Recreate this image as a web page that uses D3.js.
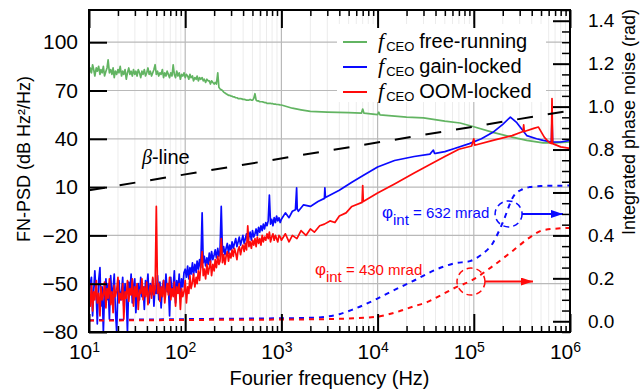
<!DOCTYPE html>
<html>
<head>
<meta charset="utf-8">
<script src="https://cdn.jsdelivr.net/npm/d3@7"></script>
<style>
  body { margin: 0; background: #fff; }
  text { font-family: 'Liberation Sans', Arial, sans-serif; }
</style>
</head>
<body>
<svg id="chart"></svg>
<script>
// Full size of the svg element.
const WIDTH = 642;
const HEIGHT = 392;

// Edges of the plot frame.
const LEFT = 89;
const RIGHT = 570;
const TOP = 10;
const BOTTOM = 332;

const GREEN = '#62b462';
const BLUE = '#0a0aff';
const RED = '#ff0a0a';

// Tick values.
const freqTicks = [10, 100, 1e3, 1e4, 1e5, 1e6];
const psdTicks = [-80, -50, -20, 10, 40, 70, 100];
const phaseTicks = [0, 0.2, 0.4, 0.6, 0.8, 1.0, 1.2, 1.4];

// Shared frequency grid (Hz) for the noisy part below 1 kHz.
const lowFreqs = [
  10, 10.3, 10.6, 10.9, 11.2, 11.5, 11.9, 12.2, 12.6, 13,
  13.3, 13.7, 14.1, 14.5, 15, 15.4, 15.8, 16.3, 16.8, 17.3,
  17.8, 18.3, 18.8, 19.4, 20, 20.5, 21.1, 21.8, 22.4, 23,
  23.7, 24.4, 25.1, 25.9, 26.6, 27.4, 28.2, 29, 29.9, 30.7,
  31.6, 32.5, 33.5, 34.5, 35.5, 36.5, 37.6, 38.7, 39.8, 41,
  42.2, 43.4, 44.7, 46, 47.3, 48.7, 50.1, 51.6, 53.1, 54.6,
  56.2, 57.9, 59.6, 61.3, 63.1, 64.9, 66.8, 68.8, 70.8, 72.9,
  75, 77.1, 79.4, 81.7, 84.1, 86.6, 89.1, 91.7, 94.4, 97.2,
  100, 103, 106, 109, 112, 115, 119, 122, 126, 130,
  133, 137, 141, 145, 150, 154, 158, 163, 168, 173,
  178, 183, 188, 194, 200, 205, 211, 218, 224, 230,
  237, 244, 251, 259, 266, 274, 282, 290, 299, 307,
  316, 325, 335, 345, 355, 365, 376, 387, 398, 410,
  422, 434, 447, 460, 473, 487, 501, 516, 531, 546,
  562, 579, 596, 613, 631, 649, 668, 688, 708, 729,
  750, 771, 794, 817, 841, 866, 891, 917, 944, 972,
  1000
];

// fCEO free-running, dB Hz^2/Hz
const freeLow = [
  80, 84, 81, 86, 83, 79, 84, 82, 85, 80,
  83, 81, 85, 79, 82, 84, 89, 81, 83, 80,
  84, 78, 82, 80, 83, 81, 85, 79, 82, 80,
  83, 77, 81, 84, 80, 82, 79, 83, 80, 82,
  79, 83, 81, 78, 82, 80, 83, 79, 81, 84,
  80, 82, 79, 81, 83, 86, 80, 82, 79, 81,
  80, 83, 78, 81, 79, 82, 80, 78, 81, 79,
  86, 80, 78, 82, 79, 81, 77, 80, 79, 81,
  78, 80, 79, 77, 80, 78, 79, 76, 78, 77,
  79, 76, 78, 77, 78, 76, 77, 75, 77, 76,
  76, 74, 76, 75, 74, 75, 74, 81, 72, 71,
  70.5, 70, 69, 68.5, 68, 67.5, 67, 67, 66.5, 66.5,
  66, 66, 65.5, 65.5, 65, 65, 65, 64.8, 64.5, 64.5,
  64.3, 64, 64, 64, 64.5, 64, 64, 65, 68, 64,
  63.5, 63.5, 63, 63, 63, 62.8, 62.5, 62.5, 62, 62,
  62, 62, 61.8, 61.8, 61.5, 61.5, 61.3, 61.3, 61.2, 61,
  61
];
const freeHighFreqs = [1000, 1300, 1600, 2000, 3000, 5000, 6800, 7000, 7200, 10000,
  10300, 10600, 20000, 30000, 50000, 72000, 100000, 158000, 250000, 355000,
  525000, 700000, 1000000];
const freeHigh = [61, 59, 58, 57, 56.6, 56.3, 56, 58.5, 56, 55,
  56.5, 54.8, 53.5, 53, 51, 49.8, 47.5, 44, 41, 39,
  37.5, 37.5, 38];

// fCEO gain-locked
const gainLow = [
  -62, -50, -46, -70, -54, -42, -58, -75, -48, -40,
  -64, -52, -80, -56, -47, -60, -50, -72, -45, -58,
  -53, -44, -66, -80, -52, -48, -60, -55, -46, -64,
  -50, -58, -80, -49, -56, -44, -62, -52, -47, -68,
  -55, -50, -60, -46, -58, -52, -66, -48, -54, -44,
  -62, -50, -57, -47, -64, -51, -56, -45, -60, -49,
  -65, -52, -48, -58, -44, -55, -50, -70, -46, -57,
  -52, -42, -62, -48, -55, -44, -58, -47, -52, -43,
  -41, -46, -39, -47, -40, -44, -37, -45, -38, -43,
  -36, -41, -35, -40, -6, -37, -33, -39, -34, -38,
  -31, -37, -30, -35, -32, -29, -34, -28, -33, -30,
  -2, -31, -27, -32, -28, -25, -31, -26, -29, -24,
  -28, -25, -22, -27, -24, -21, -26, -23, -20, -25,
  -22, -19, -24, -21, -18, -23, -17, -21, -19, -16,
  -20, -15, -18, -14, -17, -13, -16, -12, -14, -11,
  5, -13, -10, -14, -9, -12, -8, -11, -9, -12,
  -10
];
const gainHighFreqs = [1000, 1100, 1200, 1300, 1400, 1440, 1460, 1500, 1700, 2000,
  2400, 2800, 2830, 2870, 4000, 5400, 7000, 10000, 15000, 24000,
  35000, 38000, 39000, 40000, 50000, 63000, 90000, 120000, 158000, 200000,
  240000, 280000, 355000, 450000, 525000, 640000, 650000, 660000, 800000, 1000000];
const gainHigh = [-10, -6, -9, -5, -4, 9.5, -3.5, -5, -1, -2,
  1, 3, 9.5, 3.5, 8, 13, 17, 22.5, 26.5, 29,
  30.5, 33, 31, 31, 32, 34, 37, 40, 44, 49,
  53.5, 50, 42, 40, 39, 38, 53, 38, 38, 39];

// fCEO OOM-locked
const oomLow = [
  -58, -64, -50, -67, -55, -60, -48, -62, -56, -70,
  -52, -60, -57, -49, -65, -53, -59, -47, -63, -55,
  -68, -51, -58, -54, -46, -62, -56, -60, -50, -72,
  -55, -59, -48, -61, -53, -57, -47, -64, -52, -58,
  -50, -66, -54, -56, -47, -60, -52, -58, -49, -63,
  -55, -51, -59, -46, -57, -53, -2, -56, -50, -61,
  -52, -58, -48, -62, -54, -50, -57, -46, -60, -53,
  -58, -49, -64, -52, -56, -50, -66, -53, -58, -55,
  -48, -62, -52, -56, -45, -53, -49, -44, -52, -46,
  -50, -42, -48, -40, -30, -45, -41, -47, -38, -44,
  -40, -36, -45, -38, -42, -35, -40, -33, -38, -36,
  -22, -37, -32, -38, -33, -30, -36, -31, -34, -29,
  -33, -28, -31, -35, -29, -27, -32, -28, -26, -30,
  -25, -29, -14, -27, -24, -28, -23, -26, -22, -27,
  -21, -25, -22, -26, -20, -24, -21, -23, -19, -22,
  -18, -24, -21, -19, -23, -20, -22, -24, -20, -21,
  -23
];
const oomHighFreqs = [1000, 1100, 1200, 1300, 1450, 1600, 1800, 2000, 2200, 2500,
  2800, 3200, 3600, 4000, 4700, 5400, 6900, 7000, 7100, 10000,
  15000, 24000, 35000, 50000, 70000, 95000, 100000, 102000, 158000, 250000,
  325000, 330000, 335000, 420000, 470000, 540000, 600000, 640000, 650000, 660000,
  800000, 1000000];
const oomHigh = [-23, -19, -24, -20, -22, -17, -20, -16, -18, -14,
  -13, -11, -12, -8, -6, -2, 0.5, 11, 1, 6.3,
  12, 18.8, 24, 29, 33.5, 35.5, 40, 36, 39, 42,
  44.5, 48.6, 44.5, 46.5, 47.3, 41, 38, 37, 65, 37,
  35, 34];

// Integrated phase noise (rad), right axis.
const gainIntFreqs = [10, 100, 1000, 2000, 2800, 4000, 5400, 9400, 15000, 24000,
  40000, 63000, 91000, 120000, 158000, 200000, 257000, 320000, 380000, 500000, 1000000];
const gainInt = [0.005, 0.01, 0.014, 0.016, 0.02, 0.033, 0.053, 0.1, 0.146, 0.19,
  0.24, 0.27, 0.28, 0.31, 0.365, 0.46, 0.58, 0.615, 0.625, 0.63, 0.632];
const oomIntFreqs = [10, 100, 1000, 3000, 9400, 15000, 24000, 33000, 45000, 63000,
  95000, 150000, 257000, 380000, 530000, 1000000];
const oomInt = [0.003, 0.006, 0.008, 0.01, 0.02, 0.04, 0.07, 0.09, 0.12, 0.155,
  0.19, 0.25, 0.33, 0.39, 0.425, 0.435];

// beta-separation line end points.
const betaFreqs = [10, 1e6];
const betaPsd = [8, 57.5];

const legendNames = ['free-running', 'gain-locked', 'OOM-locked'];
const legendColors = [GREEN, BLUE, RED];

const x = d3.scaleLog().domain([10, 1e6]).range([LEFT, RIGHT]);
const yPsd = d3.scaleLinear().domain([-80, 120]).range([BOTTOM, TOP]);
const yPhase = d3.scaleLinear().domain([-0.05, 1.45]).range([BOTTOM, TOP]);

const svg = d3.select('#chart').attr('width', WIDTH).attr('height', HEIGHT);
const defs = svg.append('defs');

defs.append('clipPath').attr('id', 'plot-clip')
  .append('rect')
  .attr('x', LEFT).attr('y', TOP)
  .attr('width', RIGHT - LEFT).attr('height', BOTTOM - TOP);

for (const [id, color] of [['arrow-blue', BLUE], ['arrow-red', RED]]) {
  defs.append('marker')
    .attr('id', id)
    .attr('viewBox', '0 0 12 8')
    .attr('refX', 12).attr('refY', 4)
    .attr('markerWidth', 12).attr('markerHeight', 8)
    .attr('markerUnits', 'userSpaceOnUse')
    .attr('orient', 'auto')
    .append('path').attr('d', 'M0,0L12,4L0,8Z').attr('fill', color);
}

// Minor frequency values 2..9 in each decade.
const minorFreqs = [];
for (let e = 1; e < 6; e++) {
  for (let m = 2; m <= 9; m++) minorFreqs.push(m * 10 ** e);
}

// Grid lines.
const grid = svg.append('g');
grid.selectAll('.minor-x').data(minorFreqs).join('line')
  .attr('x1', d => x(d)).attr('x2', d => x(d))
  .attr('y1', TOP).attr('y2', BOTTOM)
  .attr('stroke', '#ececec').attr('stroke-width', 1);
grid.selectAll('.major-x').data(freqTicks.slice(1, -1)).join('line')
  .attr('x1', d => x(d)).attr('x2', d => x(d))
  .attr('y1', TOP).attr('y2', BOTTOM)
  .attr('stroke', '#b9b9b9').attr('stroke-width', 1.2);
grid.selectAll('.major-y').data(psdTicks.slice(1)).join('line')
  .attr('x1', LEFT).attr('x2', RIGHT)
  .attr('y1', d => yPsd(d)).attr('y2', d => yPsd(d))
  .attr('stroke', '#b9b9b9').attr('stroke-width', 1.2);

// Traces.
const plot = svg.append('g').attr('clip-path', 'url(#plot-clip)');
const psdLine = d3.line().x(d => x(d[0])).y(d => yPsd(d[1]));
const phaseLine = d3.line().x(d => x(d[0])).y(d => yPhase(d[1])).curve(d3.curveMonotoneX);

const traces = [
  {color: GREEN, pts: d3.zip(lowFreqs, freeLow).concat(d3.zip(freeHighFreqs, freeHigh).slice(1))},
  {color: BLUE, pts: d3.zip(lowFreqs, gainLow).concat(d3.zip(gainHighFreqs, gainHigh).slice(1))},
  {color: RED, pts: d3.zip(lowFreqs, oomLow).concat(d3.zip(oomHighFreqs, oomHigh).slice(1))}
];
plot.selectAll('.trace').data(traces).join('path')
  .attr('d', d => psdLine(d.pts))
  .attr('fill', 'none')
  .attr('stroke', d => d.color)
  .attr('stroke-width', 1.7)
  .attr('stroke-linejoin', 'round');

plot.append('path')
  .attr('d', psdLine(d3.zip(betaFreqs, betaPsd)))
  .attr('fill', 'none').attr('stroke', '#000')
  .attr('stroke-width', 2).attr('stroke-dasharray', '16 15');

const integrals = [
  {color: BLUE, pts: d3.zip(gainIntFreqs, gainInt)},
  {color: RED, pts: d3.zip(oomIntFreqs, oomInt)}
];
plot.selectAll('.integral').data(integrals).join('path')
  .attr('d', d => phaseLine(d.pts))
  .attr('fill', 'none')
  .attr('stroke', d => d.color)
  .attr('stroke-width', 2)
  .attr('stroke-dasharray', '5 5');

// Annotations: circled end values with arrows to the right axis.
const notes = [
  {color: BLUE, marker: 'arrow-blue', cx: 2.3e5, cy: 0.5, rx: 13.5, ry: 13,
    from: 3.16e5, to: 8.45e5, tx: 1.11e4, ty: 0.481, value: '632'},
  {color: RED, marker: 'arrow-red', cx: 9.35e4, cy: 0.185, rx: 14, ry: 13.5,
    from: 1.31e5, to: 4.12e5, tx: 2.23e3, ty: 0.216, value: '430'}
];
for (const n of notes) {
  svg.append('ellipse')
    .attr('cx', x(n.cx)).attr('cy', yPhase(n.cy))
    .attr('rx', n.rx).attr('ry', n.ry)
    .attr('fill', 'none').attr('stroke', n.color)
    .attr('stroke-width', 1.5).attr('stroke-dasharray', '6 4');
  svg.append('line')
    .attr('x1', x(n.from)).attr('x2', x(n.to))
    .attr('y1', yPhase(n.cy)).attr('y2', yPhase(n.cy))
    .attr('stroke', n.color).attr('stroke-width', 2)
    .attr('marker-end', `url(#${n.marker})`);
  const t = svg.append('text')
    .attr('x', x(n.tx)).attr('y', yPhase(n.ty))
    .attr('fill', n.color).attr('font-size', 15);
  t.append('tspan').attr('font-size', 17).text('φ');
  t.append('tspan').attr('dy', 7).text('int');
  t.append('tspan').attr('dy', -7).text(` = ${n.value} mrad`);
}

const betaLabel = svg.append('text')
  .attr('x', x(35.5)).attr('y', yPsd(24.3))
  .attr('font-size', 20);
betaLabel.append('tspan').attr('font-family', "'Liberation Serif', serif")
  .attr('font-style', 'italic').text('β');
betaLabel.append('tspan').text('-line');

// Legend.
const legend = svg.append('g');
legend.append('rect')
  .attr('x', 337).attr('y', 24).attr('width', 209).attr('height', 78)
  .attr('fill', '#fff');
legendNames.forEach((name, i) => {
  const ly = 42 + i * 25;
  legend.append('line')
    .attr('x1', 343).attr('x2', 367).attr('y1', ly).attr('y2', ly)
    .attr('stroke', legendColors[i]).attr('stroke-width', 2);
  const t = legend.append('text').attr('x', 378).attr('y', ly + 6).attr('font-size', 20);
  t.append('tspan').attr('font-family', "'Liberation Serif', serif")
    .attr('font-style', 'italic').attr('font-size', 22).text('f');
  t.append('tspan').attr('font-size', 13).attr('dy', 3).attr('dx', 2).text('CEO');
  t.append('tspan').attr('dy', -3).attr('dx', 5).text(name);
});

// Axes, ticks pointing into the plot.
function styleAxis(g, width) {
  g.select('.domain').remove();
  g.selectAll('line').attr('stroke', '#000').attr('stroke-width', width);
}

const bottomAxis = svg.append('g').attr('transform', `translate(0,${BOTTOM})`)
  .call(d3.axisBottom(x).tickValues(freqTicks).tickSize(-18).tickPadding(12).tickFormat(''))
  .call(styleAxis, 2);
bottomAxis.selectAll('.tick text').each(function (d) {
  const t = d3.select(this).attr('font-size', 21).attr('fill', '#000').attr('dx', -5);
  t.append('tspan').text('10');
  t.append('tspan').attr('dy', '-0.5em').attr('font-size', 14).text(Math.round(Math.log10(d)));
});
svg.append('g').attr('transform', `translate(0,${BOTTOM})`)
  .call(d3.axisBottom(x).tickValues(minorFreqs).tickSize(-6).tickFormat(''))
  .call(styleAxis, 1.5);
svg.append('g').attr('transform', `translate(0,${TOP})`)
  .call(d3.axisTop(x).tickValues(freqTicks).tickSize(-18).tickFormat(''))
  .call(styleAxis, 2);
svg.append('g').attr('transform', `translate(0,${TOP})`)
  .call(d3.axisTop(x).tickValues(minorFreqs).tickSize(-6).tickFormat(''))
  .call(styleAxis, 1.5);

svg.append('g').attr('transform', `translate(${LEFT},0)`)
  .call(d3.axisLeft(yPsd).tickValues(psdTicks).tickSize(-18).tickPadding(11))
  .call(styleAxis, 2)
  .selectAll('text').attr('font-size', 21).attr('fill', '#000');

const phaseMinor = d3.range(-1, 30).filter(i => i % 4 !== 0).map(i => i * 0.05);
svg.append('g').attr('transform', `translate(${RIGHT},0)`)
  .call(d3.axisRight(yPhase).tickValues(phaseTicks).tickSize(-17).tickPadding(18)
    .tickFormat(d3.format('.1f')))
  .call(styleAxis, 2)
  .selectAll('text').attr('font-size', 19).attr('fill', '#000');
svg.append('g').attr('transform', `translate(${RIGHT},0)`)
  .call(d3.axisRight(yPhase).tickValues(phaseMinor).tickSize(-8).tickFormat(''))
  .call(styleAxis, 1.5);

// Frame.
svg.append('rect')
  .attr('x', LEFT).attr('y', TOP)
  .attr('width', RIGHT - LEFT).attr('height', BOTTOM - TOP)
  .attr('fill', 'none').attr('stroke', '#000').attr('stroke-width', 2);

// Axis titles.
svg.append('text')
  .attr('x', (LEFT + RIGHT) / 2).attr('y', 385)
  .attr('text-anchor', 'middle').attr('font-size', 20)
  .text('Fourier frequency (Hz)');
svg.append('text')
  .attr('transform', 'translate(30,159) rotate(-90)')
  .attr('text-anchor', 'middle').attr('font-size', 18)
  .text('FN-PSD (dB Hz²/Hz)');
svg.append('text')
  .attr('transform', 'translate(635,122) rotate(-90)')
  .attr('text-anchor', 'middle').attr('font-size', 18)
  .text('Integrated phase noise (rad)');
</script>
</body>
</html>
